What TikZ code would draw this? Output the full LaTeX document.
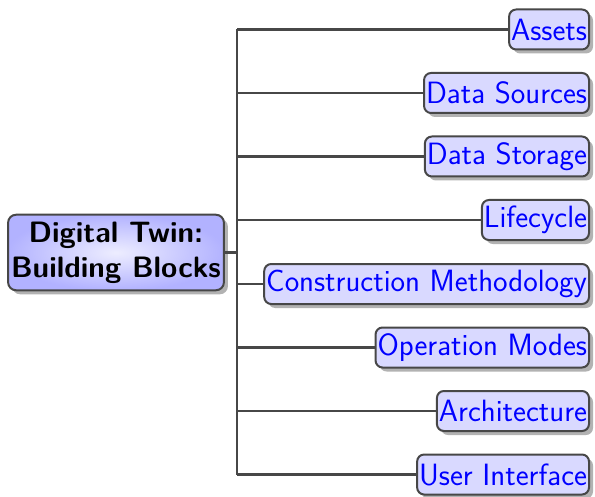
\documentclass[tikz,border=0pt]{standalone}
\usetikzlibrary{shadows}
\begin{document}
\begin{tikzpicture}[x=1bp,y=-1bp,
  link/.style={draw=black!72,line width=2.3bp},
  rootbox/.style={draw=black!72,line width=2bp,rounded corners=8bp,
    shading=radial,inner color=blue!7,outer color=blue!30,
    align=center,inner xsep=3bp,inner ysep=7bp,
    font=\sffamily\bfseries\fontsize{29.5bp}{35bp}\selectfont,
    drop shadow={shadow xshift=4bp,shadow yshift=-4bp,fill=black!30,opacity=1}},
  leafbox/.style={draw=black!72,line width=2bp,rounded corners=7bp,
    fill=blue!15,text=blue,inner xsep=2bp,inner ysep=0pt,minimum height=40bp,
    anchor=east,font=\sffamily\fontsize{30.8bp}{36bp}\selectfont,
    drop shadow={shadow xshift=4bp,shadow yshift=-4bp,fill=black!30,opacity=1}}]
  \useasboundingbox (0,0) rectangle (595,497);

  % central topic
  \node[rootbox] (root) at (116,252.5) {Digital Twin:\\Building Blocks};

  % branches
  \node[leafbox] (c1) at (590,29.5)  {Assets};
  \node[leafbox] (c2) at (590,93)    {Data Sources};
  \node[leafbox] (c3) at (590,156.5) {Data Storage};
  \node[leafbox] (c4) at (590,220)   {Lifecycle};
  \node[leafbox] (c5) at (590,284)   {Construction Methodology};
  \node[leafbox] (c6) at (590,347.5) {Operation Modes};
  \node[leafbox] (c7) at (590,411)   {Architecture};
  \node[leafbox] (c8) at (590,474.5) {User Interface};

  % trunk joints
  \foreach \i in {1,...,8} \coordinate (t\i) at (237,0 |- c\i.west);

  \draw[link] (root.east) -- (root.east -| t1);
  \draw[link] (t1) -- (t8);
  \foreach \i in {1,...,8} \draw[link] (t\i) -- (c\i.west);
\end{tikzpicture}
\end{document}
